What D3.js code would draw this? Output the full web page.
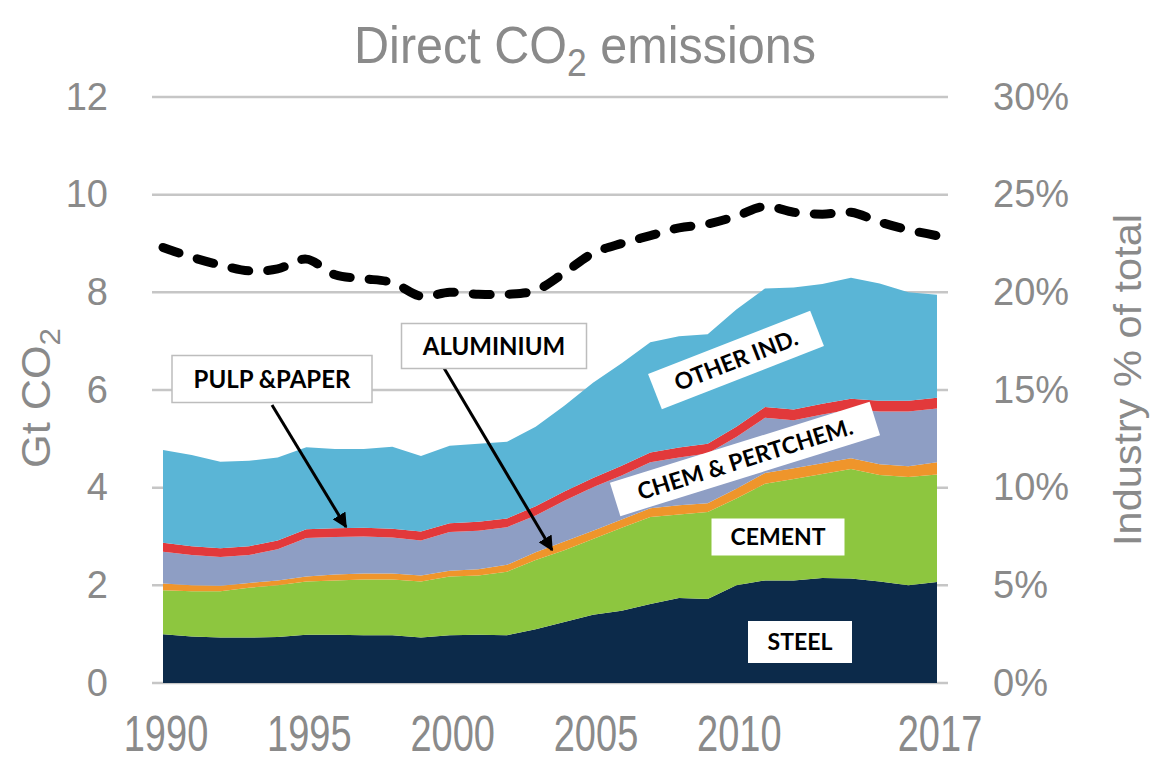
<!DOCTYPE html>
<html>
<head>
<meta charset="utf-8">
<script src="https://cdn.jsdelivr.net/npm/d3@7/dist/d3.min.js"></script>
<style>
  html, body { margin: 0; padding: 0; background: #ffffff; }
  svg { display: block; }
</style>
</head>
<body>
<svg id="chart" width="1156" height="765"></svg>
<script>
// ---------------- data ----------------
const years = [1990,1991,1992,1993,1994,1995,1996,1997,1998,1999,2000,2001,2002,2003,2004,2005,2006,2007,2008,2009,2010,2011,2012,2013,2014,2015,2016,2017];
const steel     = [1.00,0.95,0.93,0.93,0.94,0.99,0.99,0.98,0.98,0.93,0.98,0.99,0.98,1.10,1.25,1.40,1.48,1.62,1.74,1.72,2.00,2.10,2.10,2.15,2.14,2.08,2.00,2.07];
const cement    = [0.90,0.93,0.95,1.02,1.06,1.09,1.11,1.14,1.14,1.15,1.20,1.21,1.30,1.42,1.47,1.55,1.70,1.78,1.71,1.78,1.78,1.98,2.08,2.13,2.24,2.18,2.22,2.20];
const aluminium = [0.14,0.12,0.11,0.10,0.10,0.10,0.12,0.12,0.12,0.12,0.12,0.13,0.14,0.16,0.18,0.17,0.17,0.18,0.19,0.18,0.20,0.22,0.22,0.22,0.22,0.22,0.22,0.25];
const chemPetro = [0.65,0.62,0.59,0.57,0.64,0.79,0.77,0.76,0.74,0.72,0.79,0.79,0.77,0.75,0.83,0.89,0.90,0.94,0.98,1.02,1.06,1.13,0.98,1.00,1.00,1.08,1.12,1.10];
const pulpPaper = [0.18,0.18,0.18,0.18,0.18,0.18,0.18,0.18,0.18,0.18,0.18,0.18,0.18,0.19,0.19,0.19,0.20,0.20,0.20,0.20,0.21,0.22,0.22,0.22,0.22,0.22,0.22,0.22];
const otherInd  = [1.90,1.87,1.77,1.75,1.70,1.68,1.62,1.61,1.68,1.55,1.59,1.60,1.57,1.63,1.76,1.95,2.10,2.26,2.28,2.24,2.40,2.43,2.50,2.45,2.48,2.40,2.22,2.11];
const industryShare = [22.3,21.8,21.4,21.1,21.2,21.7,20.9,20.7,20.5,19.8,20.0,19.9,19.9,20.1,21.0,22.0,22.5,22.9,23.3,23.5,23.9,24.4,24.1,24.0,24.1,23.6,23.2,22.9];

const seriesKeys   = ["steel","cement","aluminium","chemPetro","pulpPaper","otherInd"];
const seriesColors = ["#0c2a4a","#8dc63f","#ef952b","#8e9ec4","#e2393b","#5ab5d6"];
const leftTicks  = [0,2,4,6,8,10,12];
const rightTicks = [0,5,10,15,20,25,30];
const xTicks     = [1990,1995,2000,2005,2010,2017];

// ---------------- setup ----------------
const svg = d3.select("#chart");
const gray = "#8a8a8a";
const font = "Liberation Sans, Arial, sans-serif";
const gridL = 152, gridR = 948;
const x  = d3.scaleLinear().domain([1990, 2017]).range([163, 937]);
const y  = d3.scaleLinear().domain([0, 12]).range([683, 97]);
const y2 = d3.scaleLinear().domain([0, 30]).range([683, 97]);

const table = years.map((yr, i) => ({
  year: yr, steel: steel[i], cement: cement[i], aluminium: aluminium[i],
  chemPetro: chemPetro[i], pulpPaper: pulpPaper[i], otherInd: otherInd[i]
}));

function fitWidth(sel, target) {
  const w = sel.node().getBBox().width;
  return target / w;
}

// gridlines
svg.append("g")
  .selectAll("line").data(leftTicks).join("line")
  .attr("x1", gridL).attr("x2", gridR)
  .attr("y1", d => y(d)).attr("y2", d => y(d))
  .attr("stroke", "#c6c6c6").attr("stroke-width", 2.5);

// stacked areas
const stack = d3.stack().keys(seriesKeys);
const layers = stack(table);
const area = d3.area()
  .x(d => x(d.data.year))
  .y0(d => y(d[0]))
  .y1(d => y(d[1]));
svg.append("g").selectAll("path").data(layers).join("path")
  .attr("d", area)
  .attr("fill", (d, i) => seriesColors[i]);

// dashed industry share line
const line = d3.line()
  .x((d, i) => x(years[i]))
  .y(d => y2(d))
  .curve(d3.curveCatmullRom.alpha(0.5));
svg.append("path")
  .datum(industryShare)
  .attr("d", line)
  .attr("fill", "none")
  .attr("stroke", "#000")
  .attr("stroke-width", 9)
  .attr("stroke-linecap", "round")
  .attr("stroke-dasharray", "17,19");

// left axis labels
const axL = svg.append("g").attr("transform", `translate(${gridL},0)`)
  .call(d3.axisLeft(y).tickValues(leftTicks).tickSize(0).tickPadding(44));
axL.select(".domain").remove();
axL.selectAll("text").attr("font-family", font)
  .attr("font-size", 38).attr("fill", gray);

// right axis labels
const axR = svg.append("g").attr("transform", `translate(${gridR},0)`)
  .call(d3.axisRight(y2).tickValues(rightTicks).tickSize(0).tickPadding(45).tickFormat(d => d + "%"));
axR.select(".domain").remove();
axR.selectAll("text").attr("font-family", font)
  .attr("font-size", 38).attr("fill", gray);

// x axis labels (condensed, tall)
const axX = svg.append("g").attr("transform", `translate(0,683)`)
  .call(d3.axisBottom(x).tickValues(xTicks).tickSize(0).tickPadding(33).tickFormat(d3.format("d")));
axX.select(".domain").remove();
axX.selectAll("text").attr("font-family", font)
  .attr("font-size", 50).attr("fill", gray)
  .attr("transform", "scale(0.76,1)");
axX.selectAll(".tick").attr("transform", d => `translate(${x(d) + 3},0)`);

// title
const title = svg.append("text")
  .attr("font-family", font)
  .attr("font-size", 52).attr("fill", gray).attr("text-anchor", "middle");
title.append("tspan").text("Direct CO");
title.append("tspan").text("2").attr("font-size", 38).attr("dy", 13);
title.append("tspan").text(" emissions").attr("dy", -13);
const ts = fitWidth(title, 462);
title.attr("transform", `translate(585,63) scale(${ts},1)`);

// left axis title
const lt = svg.append("text")
  .attr("font-family", font)
  .attr("font-size", 40).attr("fill", gray).attr("text-anchor", "middle");
lt.append("tspan").text("Gt CO");
lt.append("tspan").text("2").attr("font-size", 29).attr("dy", 10);
const ls = fitWidth(lt, 140);
lt.attr("transform", `translate(50,398) rotate(-90) scale(${ls},1)`);

// right axis title
const rt = svg.append("text")
  .attr("font-family", font)
  .attr("font-size", 38).attr("fill", gray).attr("text-anchor", "middle")
  .text("Industry % of total");
const rs = fitWidth(rt, 332);
rt.attr("transform", `translate(1141,380) rotate(-90) scale(${rs},1)`);

// ---------------- annotations ----------------
const defs = svg.append("defs");
defs.append("marker").attr("id", "arrow")
  .attr("viewBox", "0 0 10 10").attr("refX", 9).attr("refY", 5)
  .attr("markerWidth", 5).attr("markerHeight", 5).attr("orient", "auto")
  .append("path").attr("d", "M0,0 L10,5 L0,10 Z").attr("fill", "#000");

function labelBox(cx, cy, w, h, angle, txt, border, fs) {
  const g = svg.append("g").attr("transform", `translate(${cx},${cy}) rotate(${angle})`);
  g.append("rect").attr("x", -w/2).attr("y", -h/2).attr("width", w).attr("height", h)
    .attr("fill", "#fff").attr("stroke", border ? "#bdbdbd" : "none").attr("stroke-width", 1.5);
  g.append("text").attr("text-anchor", "middle").attr("dy", "0.36em")
    .attr("font-family", "Lato, 'Open Sans', sans-serif").attr("font-weight", 700)
    .attr("font-size", fs).attr("fill", "#000").text(txt);
}

// arrows
svg.append("line").attr("x1", 272).attr("y1", 405).attr("x2", 346).attr("y2", 527)
  .attr("stroke", "#000").attr("stroke-width", 3).attr("marker-end", "url(#arrow)");
svg.append("line").attr("x1", 444).attr("y1", 368).attr("x2", 552).attr("y2", 550)
  .attr("stroke", "#000").attr("stroke-width", 3).attr("marker-end", "url(#arrow)");

labelBox(272, 379, 200, 47, 0, "PULP &PAPER", true, 24);
labelBox(494, 346, 185, 45, 0, "ALUMINIUM", true, 24);
labelBox(736, 360, 174, 38, -21.3, "OTHER IND.", false, 23);
labelBox(745, 459, 272, 35, -17.3, "CHEM & PERTCHEM.", false, 23);
labelBox(778, 537, 133, 37, 0, "CEMENT", false, 23);
labelBox(800, 642, 104, 42, 0, "STEEL", false, 23);
</script>
</body>
</html>
